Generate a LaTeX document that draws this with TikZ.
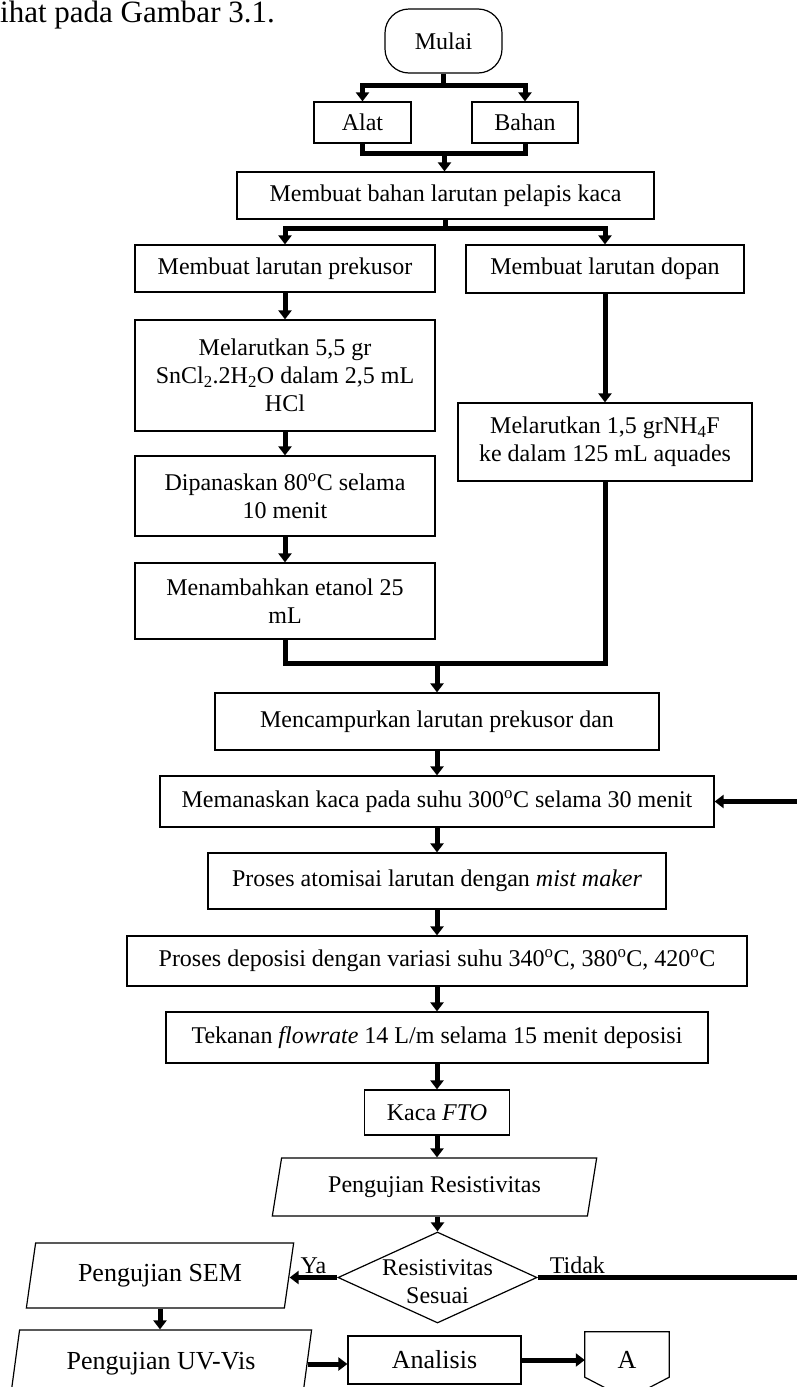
\documentclass[tikz,border=0pt]{standalone}
\usepackage{fontspec}
\setmainfont{Liberation Serif}
\usetikzlibrary{shapes,arrows.meta,positioning,calc}
\newcommand{\boxfont}{\fontsize{24}{28}\selectfont}
\newcommand{\bigboxfont}{\fontsize{26}{30}\selectfont}

\begin{document}
\begin{tikzpicture}[
    x=1pt, y=-1pt,
    process/.style={rectangle, draw=black, line width=1.2pt, inner sep=0pt, align=center, font=\boxfont},
    terminal/.style={process, rounded corners=24pt},
    io/.style={trapezium, trapezium left angle=75, trapezium right angle=105, trapezium stretches=true, draw=black, line width=1.2pt, inner sep=0pt, font=\bigboxfont},
    decision/.style={diamond, draw=black, line width=1.2pt, inner sep=0pt, minimum width=199pt, minimum height=91pt},
    arrow/.style={line width=5pt, -{Triangle[width=13pt,length=9pt]}},
    bar/.style={line width=5pt}
]
    \useasboundingbox (0,0) rectangle (796,1387);
    \node[anchor=base west, inner sep=0pt, font=\fontsize{31}{36}\selectfont] (teks) at (0,22) {ihat pada Gambar 3.1.};

    \node[terminal, minimum width=117pt, minimum height=64pt] (mulai) at (443.5,41) {Mulai};
    \node[process, minimum width=97pt, minimum height=41pt] (alat) at (362.5,122.5) {Alat};
    \node[process, minimum width=106pt, minimum height=41pt] (bahan) at (525,122.5) {Bahan};
    \node[process, minimum width=417pt, minimum height=47pt] (pelapis) at (445.5,195.5) {Membuat bahan larutan pelapis kaca};

    \node[process, minimum width=300pt, minimum height=47pt] (prekusor) at (285,268.5) {Membuat larutan prekusor};
    \node[process, minimum width=300pt, minimum height=111pt] (larutSn) at (285,375.5) {Melarutkan 5,5 gr\\ SnCl\textsubscript{2}.2H\textsubscript{2}O dalam 2,5 mL\\ HCl};
    \node[process, minimum width=300pt, minimum height=80pt] (panas) at (285,496) {Dipanaskan 80\textsuperscript{o}C selama\\ 10 menit};
    \node[process, minimum width=300pt, minimum height=76pt] (etanol) at (285,601) {Menambahkan etanol 25\\ mL};

    \node[process, minimum width=278pt, minimum height=48pt] (dopan) at (605,269) {Membuat larutan dopan};
    \node[process, minimum width=294pt, minimum height=78pt] (larutNH) at (605,442) {Melarutkan 1,5 grNH\textsubscript{4}F\\ ke dalam 125 mL aquades};

    \node[process, minimum width=444pt, minimum height=57pt] (campur) at (437,721.5) {Mencampurkan larutan prekusor dan};
    \node[process, minimum width=554pt, minimum height=51pt] (panaskaca) at (437,801.5) {Memanaskan kaca pada suhu 300\textsuperscript{o}C selama 30 menit};
    \node[process, minimum width=458pt, minimum height=56pt] (atomisasi) at (437,881) {Proses atomisai larutan dengan \textit{mist maker}};
    \node[process, minimum width=620pt, minimum height=50pt] (deposisi) at (437,961) {Proses deposisi dengan variasi suhu 340\textsuperscript{o}C, 380\textsuperscript{o}C, 420\textsuperscript{o}C};
    \node[process, minimum width=542pt, minimum height=51pt] (tekanan) at (437,1037.5) {Tekanan \textit{flowrate} 14 L/m selama 15 menit deposisi};
    \node[process, minimum width=145pt, minimum height=45pt] (fto) at (437,1112.5) {Kaca \textit{FTO}};
    \node[io, font=\boxfont, trapezium left angle=73, trapezium right angle=107, minimum width=325pt, minimum height=58pt] (resist) at (434.5,1187) {Pengujian Resistivitas};
    \node[decision, label={[font=\boxfont, align=center, yshift=-4pt]center:Resistivitas\\ Sesuai}] (cek) at (437.5,1277.5) {};

    \node[io, minimum width=268pt, minimum height=65pt] (sem) at (160,1275.5) {Pengujian SEM};
    \node[io, minimum width=302pt, minimum height=68pt] (uvvis) at (161,1364) {Pengujian UV-Vis};
    \node[process, font=\bigboxfont, minimum width=173pt, minimum height=48pt] (analisis) at (434.5,1360) {Analisis};
    \node[font=\bigboxfont, inner sep=0pt, minimum width=84pt, minimum height=45pt] (conA) at (627,1354.5) {\raisebox{-5pt}[\height][0pt]{A}};
    \draw[line width=1.2pt] (conA.south west) -- (conA.north west) -- (conA.north east) -- (conA.south east) -- ($(conA.south)+(0,22)$) -- cycle;

    % cabang alat dan bahan
    \coordinate (split1) at (443.5,85);
    \coordinate (join1) at (444.5,153);
    \draw[bar] (mulai) -- (split1);
    \draw[arrow] (split1) -| (alat);
    \draw[arrow] (split1) -| (bahan);
    \draw[bar] (alat) |- (join1);
    \draw[bar] (bahan) |- (join1);
    \draw[arrow] (join1) -- (join1 |- pelapis.north);

    % dua larutan
    \coordinate (split2) at (445.5,228);
    \draw[bar] (pelapis) -- (split2);
    \draw[arrow] (split2) -| (prekusor);
    \draw[arrow] (split2) -| (dopan);
    \draw[arrow] (prekusor) -- (larutSn);
    \draw[arrow] (larutSn) -- (panas);
    \draw[arrow] (panas) -- (etanol);
    \draw[arrow] (dopan) -- (larutNH);

    \coordinate (join2) at (437,663);
    \draw[bar] (etanol) |- (join2);
    \draw[bar] (larutNH) |- (join2);
    \draw[arrow] (join2) -- (campur);

    \draw[arrow] (campur) -- (panaskaca);
    \draw[arrow] (panaskaca) -- (atomisasi);
    \draw[arrow] (atomisasi) -- (deposisi);
    \draw[arrow] (deposisi) -- (tekanan);
    \draw[arrow] (tekanan) -- (fto);
    \draw[arrow] (fto.south) -- (fto.south |- resist.north);
    \draw[arrow] (cek.north |- resist.south) -- (cek.north);

    % keputusan
    \coordinate (loop) at (803,1277.5);
    \draw[arrow] (cek.west) -- node[above, inner sep=1pt, font=\boxfont] {Ya} (cek.west -| sem.east);
    \draw[arrow] (cek.east) -- node[above, pos=0.15, inner sep=1pt, font=\boxfont] {Tidak} (loop) |- (panaskaca.east);
    \draw[arrow] (sem.center |- sem.south) -- (sem.center |- uvvis.north);
    \draw[arrow] (uvvis.east) -- (uvvis.east -| analisis.west);
    \draw[arrow] (analisis.east) -- (analisis.east -| conA.west);
\end{tikzpicture}
\end{document}
